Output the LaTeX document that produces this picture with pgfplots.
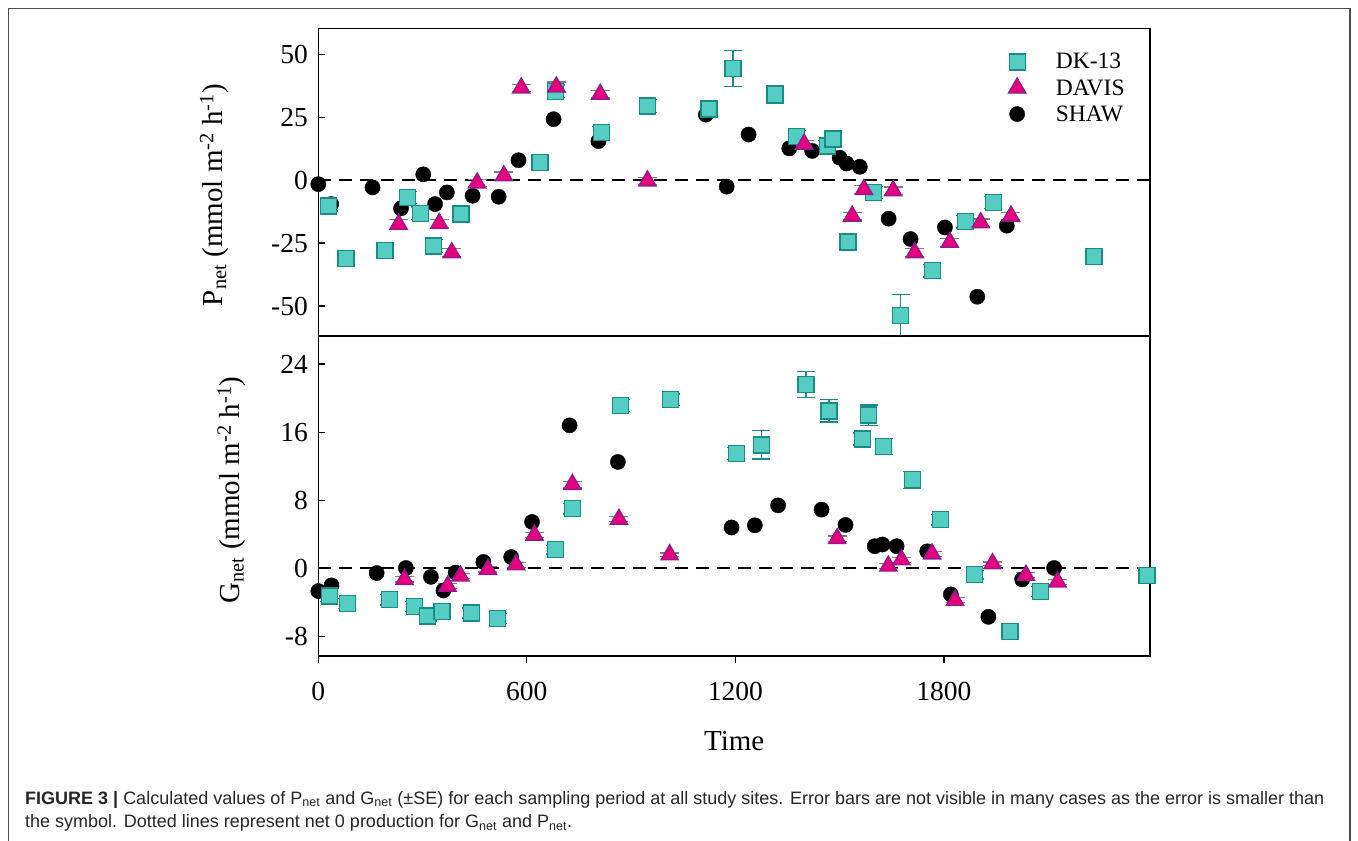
\documentclass[border=0pt]{standalone}
\usepackage{fontspec}
\setmainfont{Liberation Serif}
\newfontfamily\capfont{Liberation Sans}
\usepackage{pgfplots}
\pgfplotsset{compat=1.18}
\usepackage{pgfplotstable}

\definecolor{dkfill}{RGB}{85,205,195}
\definecolor{dkedge}{RGB}{25,140,135}
\definecolor{dvfill}{RGB}{230,0,126}
\definecolor{dvedge}{RGB}{140,30,140}
\definecolor{dverr}{RGB}{130,120,130}

% ---- P_net (top panel) ----
\pgfplotstableread{
t v e
30 -10.3 2
80 -31.1 2.5
192 -28.0 2
257 -6.9 2.5
294 -13.2 2.5
332 -26.2 2.5
411 -13.5 2.5
638 6.9 2
683 35.3 2.5
814 18.9 2.5
948 29.4 2.5
1124 28.3 2.5
1193 44.3 7.2
1314 34.1 3.5
1376 17.2 2.5
1465 13.6 2
1481 16.3 2.5
1524 -24.6 3
1598 -4.9 2.5
1676 -53.8 8.3
1767 -36.0 2.5
1862 -16.5 2.5
1942 -8.9 2.5
2232 -30.4 2.5
}\dktop
\pgfplotstableread{
t v e
231 -17.5 2
348 -17.2 1.5
384 -28.8 1.5
457 -1.1 1.5
534 1.7 1.5
584 36.6 1.5
685 37.0 2
811 34.1 1.5
947 -0.3 1.5
1398 14.3 1.5
1536 -14.3 1.5
1570 -3.7 1.5
1654 -4.2 1.5
1716 -28.8 1.5
1817 -24.7 1.5
1906 -16.9 1.5
1993 -14.3 1.5
}\dvtop
\pgfplotstableread{
t v
0 -1.6
37 -9.5
156 -2.9
238 -11.2
302 2.3
336 -9.5
370 -4.9
444 -6.2
519 -6.6
576 7.9
677 24.2
806 15.5
1115 26.0
1175 -2.6
1238 18.1
1355 12.6
1421 11.6
1500 8.9
1520 6.6
1558 5.3
1641 -15.3
1704 -23.4
1803 -18.8
1896 -46.3
1981 -18.1
}\shtop

% ---- G_net (bottom panel) ----
\pgfplotstableread{
t v e
32 -3.26 0.6
84 -4.15 0.6
204 -3.7 0.6
276 -4.5 0.6
315 -5.6 0.6
356 -5.1 0.6
440 -5.25 0.6
516 -5.9 0.6
682 2.2 0.5
731 7.0 0.6
870 19.1 0.7
1014 19.8 0.7
1203 13.5 0.7
1275 14.5 1.67
1403 21.6 1.5
1469 18.5 1.3
1565 15.2 0.7
1584 18.0 1.2
1627 14.3 0.94
1709 10.4 1.0
1790 5.7 0.6
1889 -0.74 0.5
1990 -7.4 0.6
2077 -2.7 0.6
2384 -0.82 0.6
}\dkbot
\pgfplotstableread{
t v e
248 -1.3 0.3
372 -2.1 0.3
409 -0.9 0.3
488 -0.12 0.3
569 0.43 0.3
622 3.9 0.3
731 9.85 0.4
865 5.76 0.3
1011 1.6 0.2
1493 3.5 0.3
1640 0.27 0.3
1678 1.0 0.3
1766 1.7 0.3
1832 -3.76 0.3
1940 0.55 0.2
2036 -0.82 0.3
2127 -1.6 0.3
}\dvbot
\pgfplotstableread{
t v
0 -2.67
38 -2.0
168 -0.55
252 0.04
324 -1.0
360 -2.6
395 -0.5
475 0.75
555 1.33
615 5.45
723 16.8
862 12.5
1189 4.8
1256 5.06
1323 7.4
1448 6.9
1517 5.1
1601 2.6
1623 2.8
1664 2.6
1752 2.0
1820 -3.06
1928 -5.7
2025 -1.3
2117 0.04
}\shbot

\pgfplotsset{
  dkstyle/.style={only marks, mark=square*, mark size=8pt,
     mark options={fill=dkfill, draw=dkedge, line width=1.3pt}},
  dvstyle/.style={only marks, mark=triangle*, mark size=10pt,
     mark options={fill=dvfill, draw=dvedge, line width=1.3pt}},
  shstyle/.style={only marks, mark=*, mark size=7.6pt,
     mark options={fill=black, draw=black}},
  dkerr/.style={error bars/y dir=both, error bars/y explicit,
     error bars/error bar style={dkedge, line width=1.3pt},
     error bars/error mark options={rotate=90, dkedge, line width=1.3pt, mark size=9pt}},
  dverr/.style={error bars/y dir=both, error bars/y explicit,
     error bars/error bar style={dverr, line width=1.2pt},
     error bars/error mark options={rotate=90, dverr, line width=1.2pt, mark size=9.5pt}},
  zero/.style={black, dash pattern=on 13pt off 8pt, line width=1.8pt, forget plot},
  common/.style={
    scale only axis, width=831.7pt, xmin=0, xmax=2393,
    axis line style={line width=1.3pt},
    every tick/.style={black, line width=1.3pt},
    major tick length=7pt,
    tick align=inside,
    ytick pos=left,
    /pgf/number format/assume math mode=true,
    /pgf/number format/1000 sep={},
    ticklabel style={font=\fontsize{27.5}{27.5}\selectfont},
    yticklabel style={xshift=-7pt},
    label style={font=\fontsize{29}{31}\selectfont},
  },
}

\begin{document}
\begin{tikzpicture}[x=1pt,y=1pt]
\path[use as bounding box] (0,0) rectangle (1358,841);
\fill[white] (0,0) rectangle (1358,841);
\draw[black!70, line width=1.3pt] (8.3,-3) -- (8.3,832.7) -- (1350,832.7) -- (1350,-3);

% top panel
\begin{axis}[common,
  at={(318.3pt,505pt)}, anchor=south west, height=307.7pt,
  ymin=-61.9, ymax=60.3,
  xtick=\empty, ytick={-50,-25,0,25,50},
  ylabel={P\textsubscript{net} (mmol m\textsuperscript{-2} h\textsuperscript{-1})},
  ylabel style={at={(axis description cs:-0.125,0.458)}, anchor=center},
  legend style={draw=none, fill=none, at={(0.826,0.932)}, anchor=north west,
     font=\fontsize{23.5}{23.5}\selectfont, row sep=5pt,
     /tikz/every odd column/.append style={column sep=28pt}},
  legend cell align=left,
]
\addlegendimage{dkstyle}\addlegendentry{DK-13}
\addlegendimage{dvstyle}\addlegendentry{DAVIS}
\addlegendimage{shstyle}\addlegendentry{SHAW}
\addplot[zero] coordinates {(0,0) (2393,0)};
\addplot[shstyle, forget plot] table[x=t,y=v] {\shtop};
\addplot[forget plot, dkstyle, dkerr] table[x=t,y=v,y error=e] {\dktop};
\addplot[forget plot, dvstyle, dverr] table[x=t,y=v,y error=e] {\dvtop};
\end{axis}

% bottom panel
\begin{axis}[common,
  at={(318.3pt,185pt)}, anchor=south west, height=320pt,
  ymin=-10.3, ymax=27.3,
  xtick={0,600,1200,1800}, xtick pos=bottom,
  x tick style={yshift=-7pt},
  xticklabel style={yshift=-23pt},
  ytick={-8,0,8,16,24},
  ylabel={G\textsubscript{net} (mmol m\textsuperscript{-2} h\textsuperscript{-1})},
  ylabel style={at={(axis description cs:-0.104,0.519)}, anchor=center},
  xlabel={Time},
  xlabel style={at={(axis description cs:0.5,-0.266)}, anchor=center},
]
\addplot[zero] coordinates {(0,0) (2393,0)};
\addplot[shstyle] table[x=t,y=v] {\shbot};
\addplot[dkstyle, dkerr] table[x=t,y=v,y error=e] {\dkbot};
\addplot[dvstyle, dverr] table[x=t,y=v,y error=e] {\dvbot};
\end{axis}

% caption
\node[anchor=base west, inner sep=0pt, font=\capfont\fontsize{18}{18}\selectfont, text=black!85] at (25,36.7)
 {\textbf{FIGURE 3 |} Calculated values of P\textsubscript{net} and G\textsubscript{net} (±SE) for each sampling period at all study sites. Error bars are not visible in many cases as the error is smaller than};
\node[anchor=base west, inner sep=0pt, font=\capfont\fontsize{18}{18}\selectfont, text=black!85] at (25,13.3)
 {the symbol. Dotted lines represent net 0 production for G\textsubscript{net} and P\textsubscript{net}.};
\end{tikzpicture}
\end{document}
